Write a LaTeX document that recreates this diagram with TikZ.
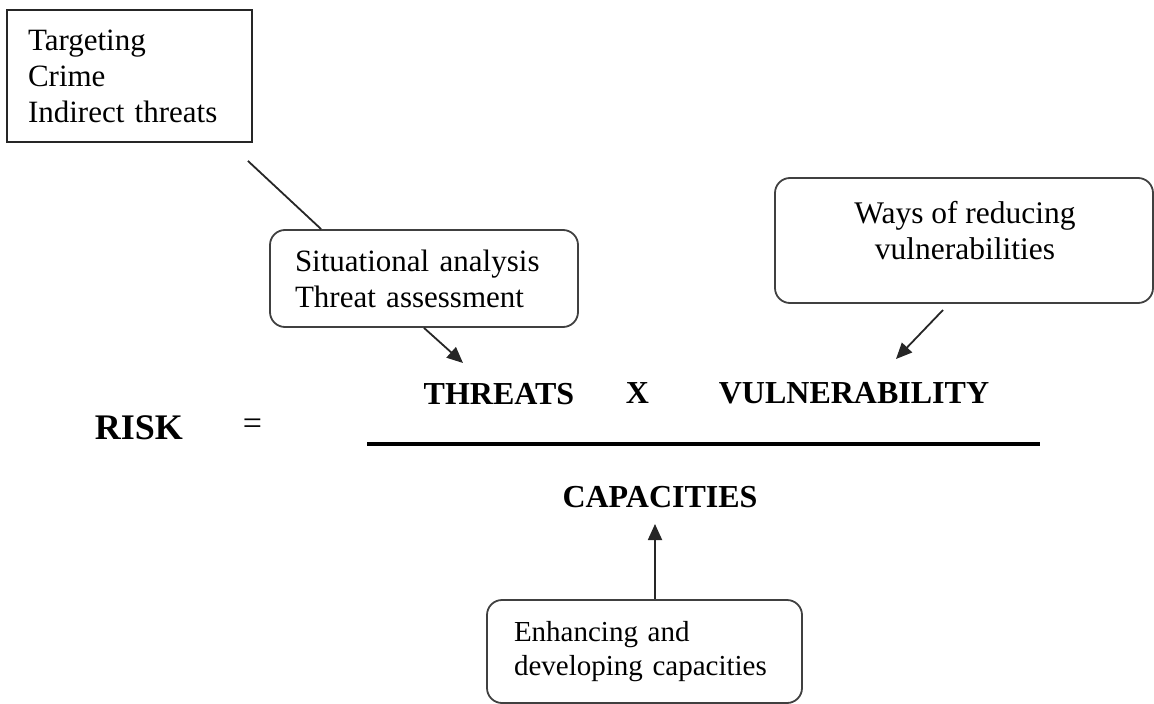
\documentclass[tikz,border=0pt]{standalone}
\usepackage{fontspec}
\setmainfont{Liberation Serif}
\usetikzlibrary{arrows.meta,calc}
\begin{document}
\begin{tikzpicture}[x=1pt,y=-1pt,
  reg/.style={font=\fontsize{31}{36}\selectfont},
  sml/.style={font=\fontsize{29}{34}\selectfont},
  bld/.style={font=\fontsize{32}{36}\selectfont\bfseries},
  sqbox/.style={draw=black!85,line width=1.8pt,inner ysep=0pt,reg,align=left},
  rbox/.style={draw=black!75,line width=1.8pt,rounded corners=15pt,inner ysep=0pt,reg,align=left},
  conn/.style={line width=1.8pt,draw=black!85},
  arr/.style={conn,-{Triangle[length=16pt,width=14pt]}}]
\useasboundingbox (0,0) rectangle (1154,704);
\node[sqbox,minimum width=245pt,minimum height=132pt,text width=203pt,inner xsep=21pt] (tl) at (129.5,76) {Targeting\\Crime\\Indirect threats};
\node[rbox,minimum width=308pt,minimum height=97pt,text width=258pt,inner xsep=25pt] (sit) at (424,278.5) {Situational analysis\\Threat assessment};
\node[rbox,minimum width=378pt,minimum height=125pt] (ways) at (964,240.5) {};
\node[font=\fontsize{31.5}{36}\selectfont,align=center] (wayst) at (965,231) {Ways of reducing\\vulnerabilities};
\node[rbox,sml,minimum width=315pt,minimum height=103pt,text width=261pt,inner xsep=27pt] (enh) at (644.5,651.5) {Enhancing and\\\mbox{developing capacities}};
\node[bld] (thr) at (499,394) {THREATS};
\node[bld] (x) at (637.5,393) {X};
\node[bld] (vul) at (854,393) {VULNERABILITY};
\node[font=\fontsize{36}{40}\selectfont\bfseries] (risk) at (139,428) {RISK};
\node[font=\fontsize{34}{38}\selectfont] (eq) at (252.5,427) {=};
\node[bld] (cap) at (660,497) {CAPACITIES};
\coordinate (fl) at (367,444);
\coordinate (fr) at (1040,444);
\draw[line width=4.5pt] (fl) -- (fr);
\draw[conn] ($(tl.south east)+(-5,18)$) -- ($(sit.north west)+(52,0)$);
\coordinate (a1) at (463,363);
\draw[arr] (sit.south) -- (a1);
\coordinate (a2s) at (943,310);
\coordinate (a2) at (896,359);
\draw[arr] (a2s) -- (a2);
\coordinate (a3) at (655,524);
\draw[arr] ($(enh.north)+(10.5,0)$) -- (a3);
\end{tikzpicture}
\end{document}
